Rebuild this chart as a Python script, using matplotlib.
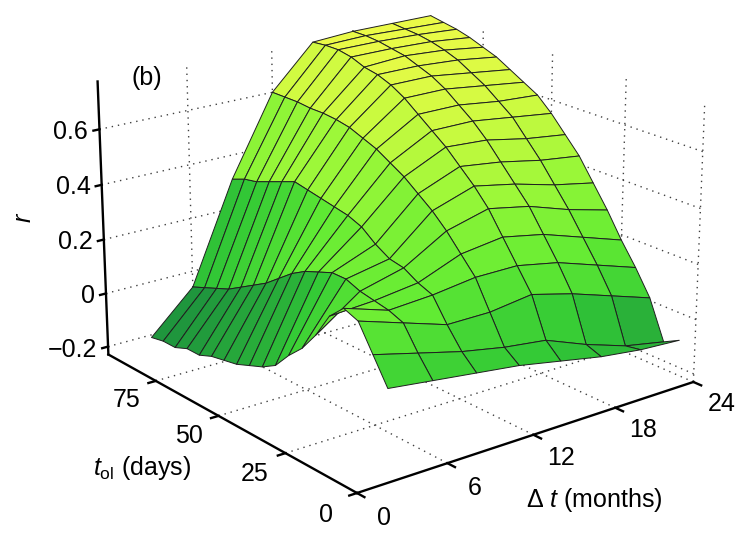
import numpy as np
import matplotlib
matplotlib.use("Agg")
import matplotlib.pyplot as plt
from matplotlib.colors import LinearSegmentedColormap, Normalize
from mpl_toolkits.mplot3d import proj3d

plt.rcParams["font.family"] = ["Liberation Sans", "DejaVu Sans"]
plt.rcParams["mathtext.fontset"] = "custom"
plt.rcParams["mathtext.rm"] = "Liberation Sans"
plt.rcParams["mathtext.it"] = "Liberation Sans:italic"

# grid of the surface
dt_months = [3, 6, 9, 12, 15, 18, 21, 24]
t_ol_days = [5, 10, 15, 20, 25, 30, 35, 40, 45, 50,
             55, 60, 65, 70, 75, 80, 85, 90, 95]

# r, one row per t_ol value, columns follow dt_months
r_rows = [
    [0.05, 0.03, 0.01, -0.01, -0.04, -0.07, -0.09, -0.10],
    [0.14, 0.10, 0.06, 0.03, 0.01, -0.05, -0.10, -0.13],
    [0.23, 0.18, 0.13, 0.13, 0.15, 0.11, 0.06, 0.01],
    [0.25, 0.20, 0.21, 0.23, 0.23, 0.20, 0.15, 0.10],
    [0.20, 0.21, 0.23, 0.29, 0.31, 0.28, 0.23, 0.18],
    [0.11, 0.22, 0.26, 0.35, 0.39, 0.36, 0.31, 0.27],
    [0.04, 0.24, 0.27, 0.40, 0.45, 0.42, 0.38, 0.35],
    [-0.01, 0.24, 0.30, 0.44, 0.50, 0.48, 0.45, 0.43],
    [-0.07, 0.22, 0.34, 0.48, 0.55, 0.54, 0.51, 0.49],
    [-0.10, 0.20, 0.36, 0.51, 0.59, 0.59, 0.57, 0.55],
    [-0.12, 0.17, 0.37, 0.54, 0.63, 0.63, 0.61, 0.60],
    [-0.14, 0.13, 0.38, 0.56, 0.67, 0.67, 0.65, 0.63],
    [-0.15, 0.09, 0.39, 0.58, 0.70, 0.70, 0.68, 0.66],
    [-0.16, 0.06, 0.40, 0.59, 0.72, 0.72, 0.71, 0.69],
    [-0.18, 0.03, 0.38, 0.595, 0.73, 0.74, 0.73, 0.71],
    [-0.18, 0.0, 0.36, 0.595, 0.75, 0.75, 0.745, 0.73],
    [-0.20, -0.02, 0.34, 0.60, 0.76, 0.76, 0.755, 0.745],
    [-0.20, -0.04, 0.33, 0.60, 0.76, 0.765, 0.76, 0.755],
    [-0.21, -0.06, 0.31, 0.60, 0.755, 0.765, 0.765, 0.765],
]

dt_ticks = [0, 6, 12, 18, 24]
t_ticks = [0, 25, 50, 75]
r_ticks = [-0.2, 0, 0.2, 0.4, 0.6]
r_labels = ["\u22120.2", "0", "0.2", "0.4", "0.6"]

xlo, xhi = 0, 24
ylo, yhi = 0, 95
zlo, zhi = -0.23, 0.77

W, H = 742, 534
fig = plt.figure(figsize=(W / 100, H / 100), dpi=100)
ax = fig.add_axes([0.14, 0.0, 0.72, 1.0], projection="3d", computed_zorder=False)
ax.set_proj_type("persp", focal_length=0.75)
ax.view_init(elev=19.5, azim=-128)
ax.set_xlim(xlo, xhi)
ax.set_ylim(ylo, yhi)
ax.set_zlim(zlo, zhi)
ax.set_box_aspect((1, 1, 0.69))
ax.set_axis_off()

greens = LinearSegmentedColormap.from_list("greens", [
    (0.00, (0.12, 0.58, 0.24)),
    (0.20, (0.20, 0.79, 0.21)),
    (0.40, (0.38, 0.92, 0.20)),
    (0.60, (0.60, 0.97, 0.22)),
    (0.80, (0.80, 0.98, 0.25)),
    (1.00, (0.92, 0.98, 0.28)),
])

X, Y = np.meshgrid(dt_months, t_ol_days)
Z = np.array(r_rows)
norm = Normalize(Z.min(), Z.max())
ax.plot_surface(X, Y, Z, facecolors=greens(norm(Z)), edgecolor="0.12",
                linewidth=0.7, rstride=1, cstride=1, shade=False, zorder=2)

# dotted grid on the floor and the two back walls
grid = dict(color="0.25", lw=1.0, ls=(0, (1, 3.5)), zorder=1)
for d in dt_ticks[1:]:
    ax.plot([d, d], [ylo, yhi], [zlo, zlo], **grid)
    ax.plot([d, d], [yhi, yhi], [zlo, zhi], **grid)
for t in t_ticks:
    if t > 0:
        ax.plot([xlo, xhi], [t, t], [zlo, zlo], **grid)
    ax.plot([xhi, xhi], [t, t], [zlo, zhi], **grid)
for z in r_ticks:
    ax.plot([xlo, xhi], [yhi, yhi], [z, z], **grid)
    ax.plot([xhi, xhi], [ylo, yhi], [z, z], **grid)

# axis lines, ticks and tick labels
axis = dict(color="k", lw=1.7, zorder=3, solid_capstyle="projecting")
ax.plot([xlo, xhi], [ylo, ylo], [zlo, zlo], **axis)
ax.plot([xlo, xlo], [ylo, yhi], [zlo, zlo], **axis)
ax.plot([xlo, xlo], [yhi, yhi], [zlo, zhi], **axis)

fs = 18
for d in dt_ticks:
    ax.plot([d, d], [ylo, ylo - 2.5], [zlo, zlo], **axis)
    ax.text(d, ylo - 9, zlo - 0.035, str(d), fontsize=fs, ha="center", va="center", zorder=4)
for t in t_ticks:
    ax.plot([xlo, xlo - 0.5], [t, t], [zlo, zlo], **axis)
    ax.text(xlo - 2.0, t, zlo - 0.04, str(t), fontsize=fs, ha="center", va="center", zorder=4)
for z, lab in zip(r_ticks, r_labels):
    ax.plot([xlo, xlo - 0.4], [yhi, yhi], [z, z], **axis)
    ax.text(xlo - 0.75, yhi, z, lab, fontsize=fs, ha="right", va="center", zorder=4)

# fit the projected box onto the reference corners
fig.canvas.draw()


def screen(x, y, z):
    xs, ys, _ = proj3d.proj_transform(x, y, z, ax.get_proj())
    px, py = ax.transData.transform((xs, ys))
    return np.array([px, H - py])


front_px = np.array([357.0, 493.0])
right_px = np.array([695.0, 387.0])
p0 = screen(xlo, ylo, zlo)
p1 = screen(xhi, ylo, zlo)
s = np.hypot(*(right_px - front_px)) / np.hypot(*(p1 - p0))
bb = ax.get_position()
c = np.array([(bb.x0 + bb.width / 2) * W, H - (bb.y0 + bb.height / 2) * H])
new_c = front_px - s * (p0 - c)
L = bb.width * W * s
ax.set_position([(new_c[0] - L / 2) / W, 1 - (new_c[1] + L / 2) / H, L / W, L / H])

fig.text(147 / W, 1 - 78 / H, "(b)", fontsize=fs, ha="center", va="center")
fig.text(24 / W, 1 - 218 / H, "r", fontsize=fs, style="italic", rotation=90,
         ha="center", va="center")
fig.text(142 / W, 1 - 468 / H, r"$t_{\rm ol}$ (days)", fontsize=fs, ha="center", va="center")
fig.text(594 / W, 1 - 500 / H, r"$\Delta\ t$ (months)", fontsize=fs, ha="center", va="center")

fig.savefig("out.png", dpi=100)
